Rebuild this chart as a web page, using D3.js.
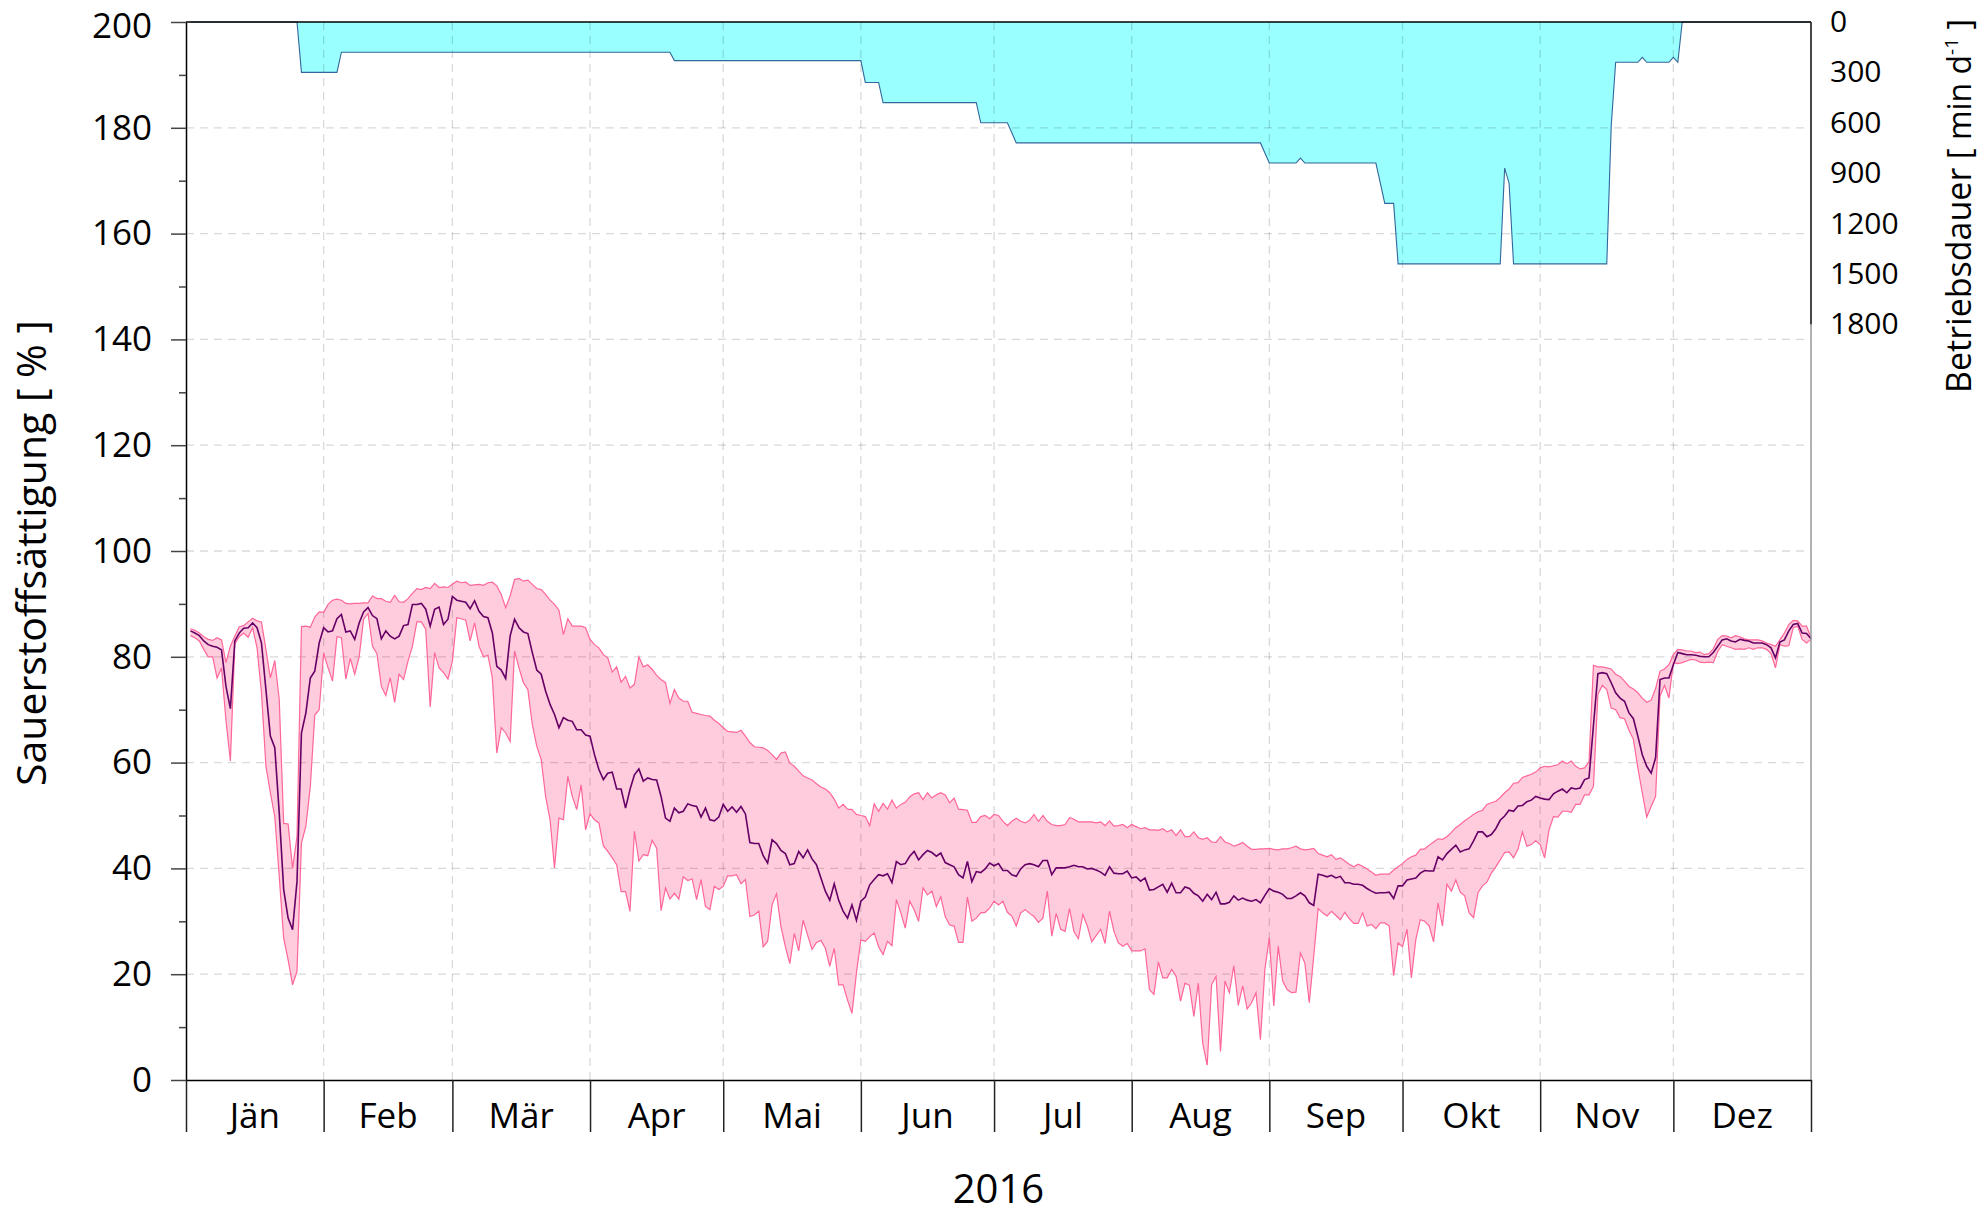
<!DOCTYPE html>
<html><head><meta charset="utf-8">
<script src="https://cdn.jsdelivr.net/npm/d3@7"></script>
<style>
body{margin:0;background:#fff;}
text{font-family:"Open Sans",sans-serif;fill:#000;}
</style>
</head><body>
<svg id="chart" width="1988" height="1215"></svg>
<script>
const monthLabels = ["Jän","Feb","Mär","Apr","Mai","Jun","Jul","Aug","Sep","Okt","Nov","Dez"];
const yearLabel = "2016";
const leftTicks = [0,20,40,60,80,100,120,140,160,180,200];
const rightTicks = [0,300,600,900,1200,1500,1800];

// daily oxygen saturation [%], 1 Jan .. 31 Dec 2016
const oxyMean = [
84.9,84.5,84.0,83.0,82.3,82.0,81.8,81.3,74.4,70.2,83.0,84.5,85.4,85.5,86.4,85.5,82.6,73.8,65.0,62.8,50.5,36.0,30.6,28.4,37.5,65.6,69.4,76.0,77.3,82.6,85.5,
84.7,84.9,87.2,88.0,84.7,84.9,83.3,86.4,88.5,89.3,87.8,87.2,83.4,84.9,83.9,83.4,83.9,85.9,86.1,89.9,89.9,90.1,89.0,85.8,89.0,89.4,86.1,87.1,91.4,
90.7,90.5,90.3,89.1,90.6,88.6,87.6,87.4,84.5,78.2,77.5,75.9,83.9,87.1,85.5,84.7,84.4,80.8,77.5,76.7,73.5,71.0,69.1,66.6,68.5,68.0,67.8,66.2,66.2,65.2,65.0,
61.5,58.7,56.8,58.0,58.2,55.0,55.0,51.4,54.9,57.7,58.8,56.5,57.1,56.8,56.7,53.6,49.5,48.9,51.4,50.5,50.8,52.2,51.9,51.7,49.7,51.4,49.2,49.0,49.7,52.1,
50.8,51.6,50.6,51.7,50.3,44.9,44.7,44.7,42.4,41.0,45.4,44.7,43.4,42.8,40.7,40.9,43.2,42.0,43.5,41.8,40.7,38.2,35.7,34.0,37.1,34.0,31.9,30.6,33.1,30.2,33.8,
34.6,36.9,37.9,38.8,38.6,39.0,37.3,41.3,40.7,40.9,42.3,43.2,41.6,42.6,43.4,43.0,42.3,42.9,41.1,40.7,40.3,38.8,38.2,41.3,37.5,39.4,39.2,39.9,41.0,40.5,
40.9,39.6,39.6,38.8,38.5,39.9,40.7,40.9,40.7,40.3,41.5,41.5,38.8,40.1,40.1,40.1,40.3,40.6,40.3,40.3,39.9,40.0,39.7,39.3,38.7,40.3,39.1,39.0,39.0,39.5,38.2,
38.4,37.6,38.2,35.9,36.0,36.5,37.0,35.5,37.2,35.4,35.4,36.5,36.2,35.3,34.8,33.8,35.1,34.1,35.5,33.3,33.3,33.6,34.8,34.0,34.4,34.0,33.8,34.1,33.5,34.9,36.2,
35.7,35.5,35.1,34.3,34.3,34.8,35.4,34.8,33.5,33.0,38.9,38.7,38.4,38.7,38.2,38.5,37.3,37.3,37.0,37.0,36.8,36.2,35.7,35.3,35.4,35.4,35.5,34.3,36.7,36.7,
37.8,38.0,38.2,39.1,39.6,39.5,39.5,42.2,41.6,42.8,43.6,44.4,43.1,43.5,43.7,45.2,46.9,46.9,46.0,46.4,47.5,49.1,49.9,51.0,50.8,51.8,51.9,52.6,52.9,53.6,53.3,
53.1,53.0,54.1,54.6,55.0,54.3,55.2,55.0,55.2,56.8,57.1,67.0,76.8,77.0,76.8,75.1,73.2,72.2,71.6,69.4,68.3,65.0,61.5,59.3,58.0,60.9,75.7,76.0,76.0,78.5,
80.8,80.6,80.4,80.4,80.3,80.1,80.0,80.0,80.8,82.0,83.2,83.4,83.0,82.8,83.3,83.1,83.0,82.6,82.6,82.6,82.3,81.7,79.8,82.8,83.2,84.9,86.1,86.3,84.5,84.4,83.4
];
const oxyMax = [
85.3,85.0,84.5,83.8,83.3,83.1,83.6,83.2,78.9,82.0,83.9,85.7,85.9,86.6,87.3,86.8,86.6,81.4,76.0,79.3,71.9,48.5,48.4,40.0,46.0,85.7,85.8,85.6,87.5,88.5,88.4,
89.9,90.7,90.9,90.7,90.1,90.0,90.1,90.1,90.2,90.2,91.5,91.0,91.0,90.5,90.3,91.6,90.4,90.3,91.0,92.0,92.9,92.7,93.1,92.9,93.9,93.1,93.2,93.1,93.7,
94.3,94.0,94.1,93.5,93.6,93.7,93.5,94.0,94.1,93.4,91.8,89.3,91.5,94.6,94.8,94.3,94.5,93.7,92.9,92.7,91.8,90.7,89.9,88.8,84.2,87.2,85.8,85.8,85.8,85.5,83.3,
82.3,81.7,80.4,79.8,77.1,78.1,75.2,76.3,74.1,74.8,80.0,78.1,78.5,77.6,76.5,75.7,75.1,71.2,73.8,72.2,71.6,71.6,69.5,69.3,69.1,68.9,68.8,68.0,67.4,66.6,
65.9,65.8,65.7,66.1,65.0,63.8,63.0,62.9,62.8,62.3,61.5,60.6,61.8,62.0,59.9,59.3,58.4,57.5,57.1,56.7,56.0,55.4,55.0,54.3,53.1,51.4,52.1,51.2,51.1,50.2,50.0,
49.8,48.1,52.2,50.8,52.3,51.2,52.9,51.4,52.1,52.5,53.5,54.1,54.3,53.0,54.3,53.3,53.9,54.3,53.9,52.4,53.3,51.2,51.1,51.0,48.7,48.7,49.8,50.0,49.4,50.2,
50.0,48.9,48.1,48.9,49.5,48.9,48.6,49.1,50.2,48.9,50.0,48.9,48.3,48.1,48.1,48.3,49.6,49.3,48.8,48.8,48.8,48.8,48.6,48.8,48.1,49.0,48.0,48.1,48.3,47.7,48.3,
47.9,47.5,47.7,47.3,47.3,47.2,47.5,46.9,47.3,46.2,47.3,46.0,46.0,46.9,45.8,45.5,45.8,45.0,44.9,46.0,45.0,44.7,44.2,44.5,44.9,44.2,43.6,43.6,43.7,43.7,43.8,
43.6,43.5,43.7,43.7,43.9,44.2,43.7,43.5,43.6,43.8,42.8,42.5,42.2,42.6,41.7,42.0,41.4,40.8,40.3,40.8,40.4,39.9,39.3,38.7,38.9,38.9,38.9,39.7,40.3,40.9,
41.7,42.2,42.5,43.6,43.7,44.4,45.0,45.6,45.5,46.0,46.8,47.7,48.3,49.0,49.6,50.2,50.7,51.0,52.1,52.4,52.7,53.4,54.3,55.0,56.1,56.2,57.2,57.5,57.8,58.2,59.0,
59.3,59.2,59.4,59.6,60.3,59.8,60.3,59.3,58.8,59.0,60.1,78.4,78.1,78.1,77.9,77.7,76.7,76.3,75.4,74.4,73.9,73.2,72.2,71.4,71.8,74.0,77.3,77.7,78.5,80.4,
81.4,81.3,81.1,81.1,80.8,80.9,80.4,80.6,81.5,83.3,84.0,83.9,83.6,84.0,83.8,83.4,83.2,83.2,83.2,83.0,82.6,82.3,82.0,83.2,84.5,86.1,86.9,86.8,85.8,85.8,83.6
];
const oxyMin = [
84.0,83.6,83.0,81.4,80.0,80.0,76.0,77.9,68.0,60.3,82.5,83.8,84.5,83.7,85.5,81.7,73.2,59.3,54.3,49.8,38.5,26.8,22.7,18.0,20.5,44.8,48.0,55.5,69.0,70.0,80.7,
77.9,75.4,83.8,83.6,75.8,79.7,76.7,80.0,87.1,88.2,82.0,80.6,74.4,72.7,76.0,71.4,76.7,75.7,79.2,82.0,86.6,86.6,85.2,70.5,80.8,77.9,77.0,75.8,79.2,
87.4,87.2,86.9,83.0,86.4,82.0,80.0,80.3,76.0,61.8,66.6,65.6,64.0,81.1,77.9,75.1,73.8,67.2,63.1,60.6,53.6,49.2,40.1,49.5,49.2,57.4,53.6,51.1,55.8,47.3,50.3,
49.2,48.6,44.3,43.2,42.0,40.7,35.6,35.6,31.9,47.0,41.4,42.6,42.4,45.3,43.8,32.0,36.3,34.2,35.3,34.2,38.4,37.7,38.0,34.1,37.9,32.8,32.2,36.6,36.0,36.6,
38.6,38.6,38.8,37.1,37.9,30.9,31.2,31.9,25.2,26.2,33.1,35.2,29.0,25.2,22.0,27.7,24.4,30.2,27.4,24.7,26.0,26.4,24.9,21.5,24.9,18.0,18.0,15.1,12.6,20.2,26.5,
26.2,27.1,27.8,25.2,23.7,26.2,25.4,34.1,31.6,28.7,33.8,32.2,30.0,36.3,35.0,35.7,32.8,34.6,30.9,29.3,29.1,26.0,26.0,34.6,30.0,30.6,31.6,31.7,32.5,33.8,
33.1,33.8,31.7,31.0,29.1,31.6,32.2,31.5,30.9,29.8,30.6,35.7,27.2,31.5,28.5,28.1,32.4,28.0,26.7,31.3,29.1,26.1,27.3,28.5,25.8,31.9,28.1,25.9,25.3,25.8,24.4,
24.4,24.4,24.8,17.1,16.2,22.3,19.3,19.3,20.9,19.6,14.9,18.3,17.9,12.0,18.3,6.9,2.8,18.0,19.6,5.4,18.7,16.5,21.6,14.1,17.8,13.4,14.6,16.5,7.6,20.9,26.9,
14.0,25.3,18.7,17.1,16.5,16.6,24.0,22.1,14.6,23.4,32.4,31.6,31.0,31.9,31.1,30.3,31.7,30.5,29.6,29.6,31.6,29.1,29.4,28.6,29.7,29.7,29.1,19.7,25.9,25.2,
28.5,19.3,26.6,30.3,30.0,29.1,26.1,33.5,29.1,37.0,35.7,37.8,35.5,34.8,31.6,30.7,35.4,36.7,37.4,39.1,40.3,41.6,43.0,43.1,42.0,43.6,46.9,44.2,44.5,45.2,44.5,
42.0,47.3,49.8,49.7,50.8,50.8,50.6,52.1,52.1,53.9,53.9,55.5,72.9,74.6,73.8,70.3,70.0,68.5,68.3,66.1,64.4,59.0,54.3,49.7,51.7,53.6,72.6,74.6,72.2,78.9,
78.7,78.9,79.2,79.5,79.4,79.0,78.9,79.0,78.9,81.0,82.3,82.0,81.7,81.4,81.5,81.4,81.7,81.4,81.7,81.7,81.4,80.6,77.9,82.3,82.0,82.1,85.5,85.8,83.3,82.6,83.3
];

// aerator running time [min/day], listed at the days where it changes
const pumpDays    = [1,25,26,34,35,109,110,152,153,156,157,178,179,185,186,187,242,243,244,250,251,252,268,269,270,272,273,296,297,298,299,320,321,322,327,328,329,334,335,336,337,366];
const pumpMinutes = [0,0,300,300,180,180,230,230,360,360,480,480,600,600,660,720,720,780,840,840,810,840,840,960,1080,1080,1440,1440,870,960,1440,1440,620,240,240,210,240,240,210,240,0,0];

const L = 186, R = 1811, T = 22, B = 1080;
const svg = d3.select("#chart");
const start = new Date(2016,0,1), end = new Date(2017,0,1);
const x = d3.scaleTime().domain([start,end]).range([L,R]);
const dayDate = d => d3.timeDay.offset(start, d);
const y = d3.scaleLinear().domain([0,200]).range([B,T]);
const y2 = d3.scaleLinear().domain([0,6300]).range([T,B]);

const n = Math.min(oxyMean.length, oxyMax.length, oxyMin.length);
const idx = d3.range(n);

// pink band
svg.append("path").datum(idx)
  .attr("d", d3.area().x(i=>x(dayDate(i+1))).y0(i=>y(oxyMin[i])).y1(i=>y(oxyMax[i])))
  .attr("fill","#ffccdd").attr("stroke","none");

// cyan area
const pumpIdx = d3.range(pumpDays.length);
svg.append("path").datum(pumpIdx)
  .attr("d", d3.area().x(i=>x(dayDate(pumpDays[i]))).y0(y2(0)).y1(i=>y2(pumpMinutes[i])))
  .attr("fill","#99ffff").attr("stroke","none");

// grid
const months = d3.timeMonth.range(start, d3.timeDay.offset(end,1));
const grid = svg.append("g").attr("stroke","rgba(0,0,0,0.15)").attr("stroke-width",1.3).attr("stroke-dasharray","8,6");
grid.selectAll(".hg").data(leftTicks.filter(v=>v>0 && v<200)).join("line")
  .attr("x1",L).attr("x2",R).attr("y1",d=>y(d)).attr("y2",d=>y(d));
grid.selectAll(".vg").data(months.slice(1,-1)).join("line")
  .attr("x1",d=>x(d)).attr("x2",d=>x(d)).attr("y1",T).attr("y2",B);

// band edges
svg.append("path").datum(idx)
  .attr("d", d3.line().x(i=>x(dayDate(i+1))).y(i=>y(oxyMax[i])))
  .attr("fill","none").attr("stroke","#ff6699").attr("stroke-width",1.2);
svg.append("path").datum(idx)
  .attr("d", d3.line().x(i=>x(dayDate(i+1))).y(i=>y(oxyMin[i])))
  .attr("fill","none").attr("stroke","#ff6699").attr("stroke-width",1.2);
// pump edge
svg.append("path").datum(pumpIdx)
  .attr("d", d3.line().x(i=>x(dayDate(pumpDays[i]))).y(i=>y2(pumpMinutes[i])))
  .attr("fill","none").attr("stroke","#33669a").attr("stroke-width",1.1);
// mean
svg.append("path").datum(idx)
  .attr("d", d3.line().x(i=>x(dayDate(i+1))).y(i=>y(oxyMean[i])))
  .attr("fill","none").attr("stroke","#660066").attr("stroke-width",1.6);

// plot border right (gray) and top
svg.append("line").attr("x1",R).attr("x2",R).attr("y1",T).attr("y2",B).attr("stroke","#999").attr("stroke-width",1.5);
svg.append("line").attr("x1",L).attr("x2",R).attr("y1",T).attr("y2",T).attr("stroke","#000").attr("stroke-width",1.5);
svg.append("line").attr("x1",R).attr("x2",R).attr("y1",y2(0)).attr("y2",y2(1800)).attr("stroke","#222").attr("stroke-width",1.5);

// left axis
const yAxis = svg.append("g").attr("transform",`translate(${L},0)`)
  .call(d3.axisLeft(y).tickValues(d3.range(0,201,10)).tickSize(15).tickSizeOuter(0).tickPadding(19)
     .tickFormat(d => leftTicks.includes(d) ? d : ""));
yAxis.select(".domain").attr("stroke","#000").attr("stroke-width",1.5);
yAxis.selectAll(".tick line").attr("stroke","#444").attr("stroke-width",1.5)
  .attr("x2", d => leftTicks.includes(d) ? -15 : -7);
yAxis.selectAll("text").attr("font-size",35).attr("font-family","Open Sans").attr("fill","#000");
yAxis.selectAll(".tick").filter(d => d === 200).select("text").attr("dy","0.45em");

// bottom axis
const xAxis = svg.append("g").attr("transform",`translate(0,${B})`)
  .call(d3.axisBottom(x).tickValues(months).tickSize(52).tickSizeOuter(0).tickFormat(""));
xAxis.select(".domain").attr("stroke","#000").attr("stroke-width",1.5);
xAxis.selectAll(".tick line").attr("stroke","#222").attr("stroke-width",1.5);
svg.append("g").selectAll("text").data(monthLabels).join("text")
  .attr("x",(d,i)=>(x(months[i])+x(months[i+1]))/2).attr("y",1128)
  .attr("text-anchor","middle").attr("font-size",35).text(d=>d);

// right axis
const yAxis2 = svg.append("g").attr("transform",`translate(${R},0)`)
  .call(d3.axisRight(y2).tickValues(rightTicks).tickSize(0).tickPadding(19).tickFormat(d3.format("d")));
yAxis2.select(".domain").remove();
yAxis2.selectAll("text").attr("font-size",30).attr("font-family","Open Sans").attr("fill","#000");

// titles
svg.append("text").attr("transform","translate(46,553) rotate(-90)")
  .attr("text-anchor","middle").attr("font-size",41).text("Sauerstoffsättigung  [ % ]");
const rt = svg.append("text").attr("transform","translate(1971,393) rotate(-90)")
  .attr("text-anchor","start").attr("font-size",34);
rt.append("tspan").text("Betriebsdauer ");
rt.append("tspan").attr("font-size",32).text("[ min d");
rt.append("tspan").attr("font-size",19).attr("baseline-shift","super").text("-1");
rt.append("tspan").attr("font-size",32).text(" ]");
svg.append("text").attr("x",(L+R)/2).attr("y",1203).attr("text-anchor","middle").attr("font-size",40).text(yearLabel);
</script>
</body></html>
